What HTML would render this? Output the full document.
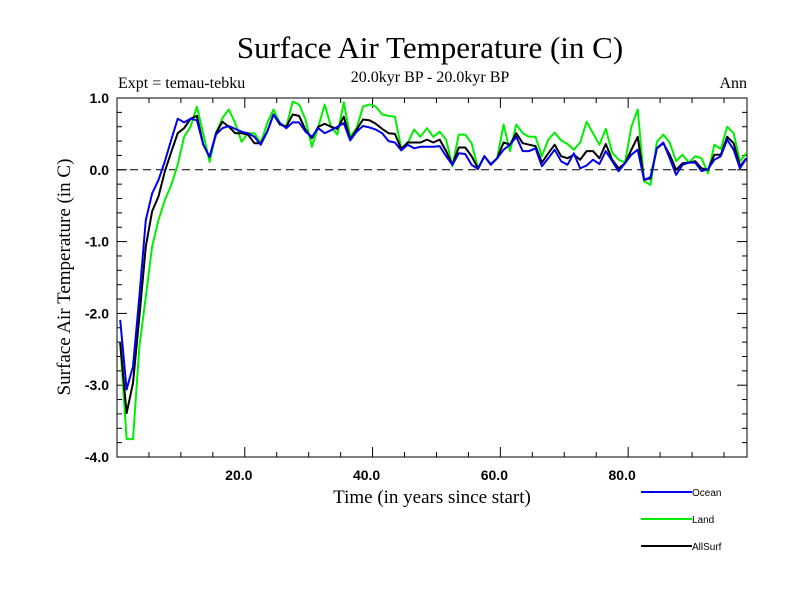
<!DOCTYPE html>
<html><head><meta charset="utf-8"><style>
body{margin:0;background:#fff}
svg{display:block}
text{font-family:"Liberation Serif",serif;fill:#000}
.tk{font-family:"Liberation Sans",sans-serif;font-weight:bold}
</style></head><body>
<svg id="c" width="800" height="600" xmlns="http://www.w3.org/2000/svg">
<text x="430" y="58" font-size="31" text-anchor="middle">Surface Air Temperature (in C)</text>
<text x="430" y="82" font-size="16" text-anchor="middle">20.0kyr BP - 20.0kyr BP</text>
<text x="118" y="88" font-size="16">Expt = temau-tebku</text>
<text x="747" y="88" font-size="16" text-anchor="end">Ann</text>
<text transform="translate(70,277) rotate(-90)" font-size="19" text-anchor="middle">Surface Air Temperature (in C)</text>
<text x="432" y="503" font-size="19" text-anchor="middle">Time (in years since start)</text>
<g id="ax"></g>
<g id="series"></g>
<g id="legend"></g>
</svg>
<script>
const ocean=[-2.09,-3.06,-2.74,-1.76,-0.70,-0.33,-0.14,0.12,0.42,0.71,0.66,0.71,0.69,0.35,0.18,0.49,0.58,0.61,0.57,0.53,0.51,0.46,0.35,0.53,0.77,0.65,0.58,0.66,0.66,0.53,
0.46,0.58,0.51,0.55,0.60,0.65,0.41,0.53,0.61,0.59,0.56,0.51,0.40,0.38,0.27,0.35,0.30,0.32,0.32,0.32,0.33,0.19,0.07,0.23,0.22,0.07,0.01,0.19,0.07,0.16,0.28,0.35,0.46,
0.26,0.26,0.30,0.05,0.16,0.28,0.12,0.07,0.23,0.02,0.06,0.14,0.08,0.26,0.12,-0.02,0.09,0.21,0.28,-0.14,-0.10,0.30,0.38,0.16,-0.07,0.07,0.10,0.10,-0.02,0.01,0.14,0.19,0.42,0.28,0.02,0.16];
const land=[-2.41,-3.75,-3.75,-2.46,-1.77,-1.07,-0.70,-0.42,-0.21,0.07,0.46,0.60,0.88,0.50,0.11,0.51,0.72,0.84,0.65,0.39,0.51,0.51,0.37,0.65,0.84,0.65,0.60,0.95,0.91,0.70,
0.32,0.60,0.91,0.60,0.49,0.94,0.46,0.58,0.88,0.91,0.88,0.77,0.75,0.74,0.30,0.37,0.56,0.46,0.58,0.46,0.53,0.42,0.05,0.49,0.49,0.37,0.02,0.19,0.07,0.16,0.63,0.26,0.63,
0.51,0.46,0.46,0.19,0.42,0.52,0.41,0.36,0.28,0.38,0.67,0.51,0.35,0.57,0.24,0.14,0.10,0.60,0.84,-0.16,-0.21,0.39,0.49,0.38,0.12,0.21,0.10,0.19,0.16,-0.05,0.35,0.29,0.60,0.51,0.12,0.23];
const allSurf=[-2.41,-3.39,-2.97,-2.04,-1.07,-0.58,-0.37,-0.02,0.25,0.51,0.58,0.71,0.75,0.35,0.18,0.51,0.67,0.60,0.51,0.51,0.49,0.37,0.37,0.53,0.77,0.63,0.60,0.77,0.75,0.56,
0.44,0.60,0.64,0.60,0.57,0.74,0.42,0.56,0.70,0.69,0.64,0.57,0.51,0.50,0.29,0.38,0.38,0.38,0.42,0.38,0.42,0.26,0.07,0.31,0.31,0.19,0.02,0.19,0.08,0.16,0.38,0.35,0.51,
0.37,0.35,0.33,0.10,0.23,0.35,0.19,0.16,0.21,0.14,0.26,0.26,0.16,0.36,0.14,0.02,0.09,0.28,0.46,-0.14,-0.12,0.30,0.37,0.21,0.00,0.09,0.10,0.12,0.02,0.00,0.21,0.21,0.46,0.37,0.05,0.16];
const xTicks=[20,40,60,80];
const xTickLabels=["20.0","40.0","60.0","80.0"];
const yTicks=[1,0,-1,-2,-3,-4];
const yTickLabels=["1.0","0.0","-1.0","-2.0","-3.0","-4.0"];

const NS="http://www.w3.org/2000/svg";
const L=117,R=747,T=98,B=457,XMIN=0,XMAX=98.6,YMIN=-4,YMAX=1;
const sx=v=>L+(v-XMIN)/(XMAX-XMIN)*(R-L);
const sy=v=>B-(v-YMIN)/(YMAX-YMIN)*(B-T);
function mk(tag,attrs,parent){const e=document.createElementNS(NS,tag);for(const k in attrs)e.setAttribute(k,attrs[k]);parent.appendChild(e);return e;}
const ax=document.getElementById('ax');
let e=mk('rect',{x:L,y:T,width:R-L,height:B-T,fill:'none',stroke:'#000','stroke-width':1},ax);


e=mk('line',{x1:L,x2:R,y1:sy(0),y2:sy(0),stroke:'#000','stroke-width':1,'stroke-dasharray':'8,5'},ax);


for(let v=5;v<XMAX;v+=5){const big=v%20===0;const len=big?10:5;const x=sx(v);
 mk('line',{x1:x,x2:x,y1:B,y2:B-len,stroke:'#000'},ax);mk('line',{x1:x,x2:x,y1:T,y2:T+len,stroke:'#000'},ax);}
for(let v=-4;v<=1.001;v+=0.2){const r=Math.round(v*10)/10;const big=Math.abs(r-Math.round(r))<0.01;const len=big?10:5;const y=sy(r);
 mk('line',{x1:L,x2:L+len,y1:y,y2:y,stroke:'#000'},ax);mk('line',{x1:R,x2:R-len,y1:y,y2:y,stroke:'#000'},ax);}
xTicks.forEach((v,i)=>{const t=mk('text',{x:sx(v)-6,y:B+23,'font-size':14,'text-anchor':'middle','class':'tk'},ax);t.textContent=xTickLabels[i];
 
 });
yTicks.forEach((v,i)=>{const t=mk('text',{x:L-8,y:sy(v)+5,'font-size':14,'text-anchor':'end','class':'tk'},ax);t.textContent=yTickLabels[i];
 
 });
const sg=document.getElementById('series');
function line(data,color,name){const pts=data.map((v,i)=>sx(i+0.5).toFixed(1)+','+sy(v).toFixed(1)).join(' ');
 const p=mk('polyline',{points:pts,fill:'none',stroke:color,'stroke-width':2,'stroke-linejoin':'round'},sg);
 
 }
line(land,'#00ee00','land-series');
line(allSurf,'#000000','allsurf-series');
line(ocean,'#0000ee','ocean-series');
const lg=document.getElementById('legend');
[["Ocean","#0000ee",492],["Land","#00ee00",519],["AllSurf","#000000",546]].forEach(([n,c,y])=>{
 const g=mk('g',{},lg);
 
 
 mk('line',{x1:641,x2:692,y1:y,y2:y,stroke:c,'stroke-width':2},g);
 const t=mk('text',{x:692,y:y+4,'font-size':10,style:'font-family:"Liberation Sans",sans-serif'},g);t.textContent=n;});
</script>
</body></html>
